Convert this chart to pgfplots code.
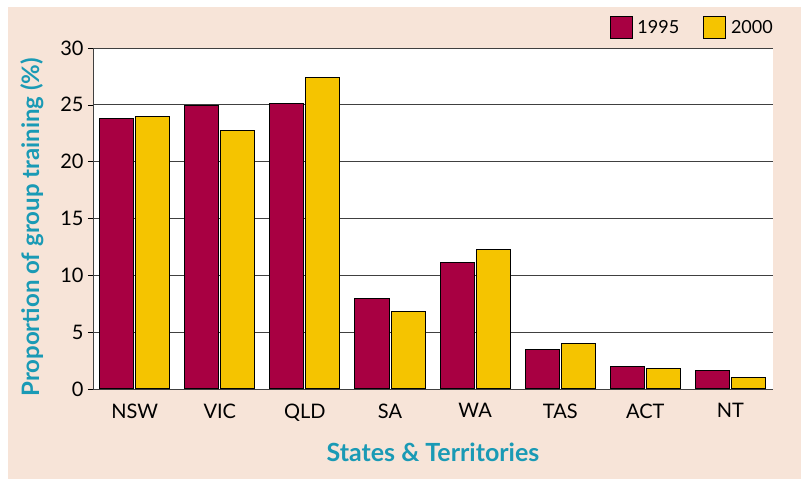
\documentclass[border=0pt]{standalone}
\usepackage{pgfplots}
\pgfplotsset{compat=1.18}
\usepackage{fontspec}
\setmainfont{Lato}
\definecolor{peach}{HTML}{F7E4D8}
\definecolor{crim}{HTML}{A80042}
\definecolor{gold}{HTML}{F5C400}
\definecolor{teal}{HTML}{1A9AB5}
\begin{document}
\begin{tikzpicture}[x=1pt,y=1pt]
\fill[white] (-93,-90) rectangle (708,389);
\fill[peach] (-85,-90) rectangle (708,382);
\begin{axis}[
  scale only axis, width=680pt, height=341pt,
  ybar, bar width=0.40, bar shift auto,
  ymin=0, ymax=30, ytick={0,5,...,30},
  xmin=-0.49, xmax=7.5,
  xtick=data, xticklabels={NSW,VIC,QLD,SA,WA,TAS,ACT,NT},
  xtick style={draw=none},
  ytick style={black, line width=0.6pt},
  tick align=outside, major tick length=5pt,
  axis x line*=bottom, axis y line*=left,
  axis line style={line width=0.8pt, color=black!75},
  axis background/.style={fill=white},
  ymajorgrids, grid style={black!75, line width=0.8pt},
  tick label style={font=\fontsize{20}{24}\selectfont, black},
  /pgf/number format/assume math mode=true,
  xticklabel style={yshift=-6pt},
  yticklabel style={xshift=-1pt},
  xlabel={\textbf{States \& Territories}},
  ylabel={\textbf{Proportion of group training (\%)}},
  xlabel style={font=\fontsize{25}{30}\selectfont\bfseries, color=teal,
    at={(axis description cs:0.5,-0.185)}, anchor=center},
  ylabel style={font=\fontsize{24}{28}\selectfont\bfseries, color=teal,
    at={(axis description cs:-0.09,0.474)}, anchor=center},
  legend style={at={(1,1.02)}, anchor=south east, xshift=5pt, draw=none, fill=none,
    legend columns=2, font=\fontsize{18}{22}\selectfont,
    /tikz/every odd column/.append style={column sep=3pt},
    /tikz/every even column/.append style={column sep=22pt}},
  legend image code/.code={\draw[#1, line width=0.8pt] (0pt,-11pt) rectangle (22pt,11pt);},
  every axis plot/.append style={draw=black, line width=1pt},
]
\addplot[fill=crim] coordinates {(0,23.8) (1,24.9) (2,25.1) (3,8.0) (4,11.1) (5,3.5) (6,2.0) (7,1.6)};
\addplot[fill=gold] coordinates {(0,24.0) (1,22.7) (2,27.4) (3,6.8) (4,12.3) (5,4.0) (6,1.8) (7,1.0)};
\legend{1995,2000}
\end{axis}
\end{tikzpicture}
\end{document}
